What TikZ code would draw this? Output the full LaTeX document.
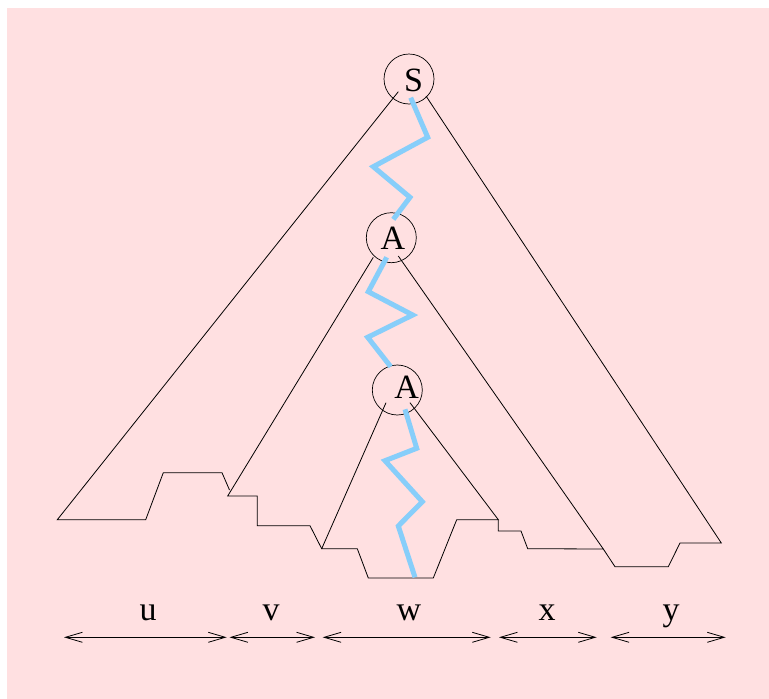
\documentclass[tikz,border=0pt]{standalone}
\usepackage{fontspec}
\setmainfont{Liberation Serif}
\usetikzlibrary{arrows.meta}
\definecolor{bgpink}{RGB}{255,224,225}
\definecolor{zig}{RGB}{135,206,250}
\begin{document}
\begin{tikzpicture}[x=1pt,y=-1pt,
  circ/.style={draw,circle,minimum size=50pt,inner sep=0pt,line width=0.7pt},
  letter/.style={inner sep=0pt,font=\fontsize{34}{40}\selectfont},
  edge/.style={line width=0.8pt,line join=miter},
  zigline/.style={draw=zig,line width=5pt,line join=miter},
  dim/.style={line width=0.8pt,{Straight Barb[length=17pt,width=10pt,line width=0.8pt]}-{Straight Barb[length=17pt,width=10pt,line width=0.8pt]}}]
\useasboundingbox (0,0) rectangle (769,699);
\fill[bgpink] (7,8) rectangle (769,699);

% circles and letters
\node[circ] (S) at (409,79) {};
\node[circ] (A1) at (391.3,237.7) {};
\node[circ] (A2) at (397.3,390) {};
\node[letter] (St) at (413.5,80) {S};
\node[letter] (A1t) at (392.8,238.5) {A};
\node[letter] (A2t) at (406.7,387) {A};

% coordinates of the outlines
\coordinate (sl) at (398.3,91.7);
\coordinate (sr) at (426,96);
\coordinate (al) at (373.3,257.3);
\coordinate (ar) at (398.3,256);
\coordinate (bl) at (386,402.7);
\coordinate (br) at (410,402.7);
\coordinate (p1) at (57.3,519.7);
\coordinate (p2) at (227.7,496);
\coordinate (p3) at (321.7,548.7);
\coordinate (p4) at (498.3,519.7);
\coordinate (p5) at (603.3,549);
\coordinate (p6) at (721.3,543);

% S triangle
\draw[edge] (sl) -- (p1) -- (145.7,519.7) -- (163.3,472.7) -- (222,472.7) -- (229.5,490);
\draw[edge] (sr) -- (p6) -- (680,543) -- (668.3,566.7) -- (615,566.7) -- (p5);
% middle A triangle
\draw[edge] (al) -- (p2) -- (257.3,496) -- (257.3,525.7) -- (310,525.7) -- (p3);
\draw[edge] (ar) -- (p5) -- (527.7,548.7) -- (521,531) -- (498.3,531) -- (p4);
% lower A triangle
\draw[edge] (bl) -- (p3) -- (357.3,548.7) -- (368.3,578) -- (433.3,578) -- (456.7,519.7) -- (p4) -- (br);

% zigzag paths
\draw[zigline] (410.7,97.7) -- (427.7,137.3) -- (373.3,166.7) -- (410,197.3) -- (393.3,219.3);
\draw[zigline] (386.7,257.3) -- (368.3,291.7) -- (412.7,315) -- (367.7,337.3) -- (390.7,366.7);
\draw[zigline] (405,409.3) -- (416.7,448.3) -- (385,460.7) -- (422.3,501.7) -- (398.3,526) -- (415,577.3);

% dimension arrows
\coordinate (d0) at (64,637.3);
\coordinate (d1) at (226.7,637.3);
\coordinate (d2) at (229.5,637.3);
\coordinate (d3) at (315,637.3);
\coordinate (d4) at (322.7,637.3);
\coordinate (d5) at (490.7,637.3);
\coordinate (d6) at (499,637.3);
\coordinate (d7) at (596.7,637.3);
\coordinate (d8) at (610.7,637.3);
\coordinate (d9) at (725.7,637.3);
\draw[dim] (d0) -- (d1);
\draw[dim] (d2) -- (d3);
\draw[dim] (d4) -- (d5);
\draw[dim] (d6) -- (d7);
\draw[dim] (d8) -- (d9);

\node[letter,anchor=base] (lu) at (148,620) {u};
\node[letter,anchor=base] (lv) at (271,620) {v};
\node[letter,anchor=base] (lw) at (409,620) {w};
\node[letter,anchor=base] (lx) at (547,620) {x};
\node[letter,anchor=base] (ly) at (671,620) {y};
\end{tikzpicture}
\end{document}
